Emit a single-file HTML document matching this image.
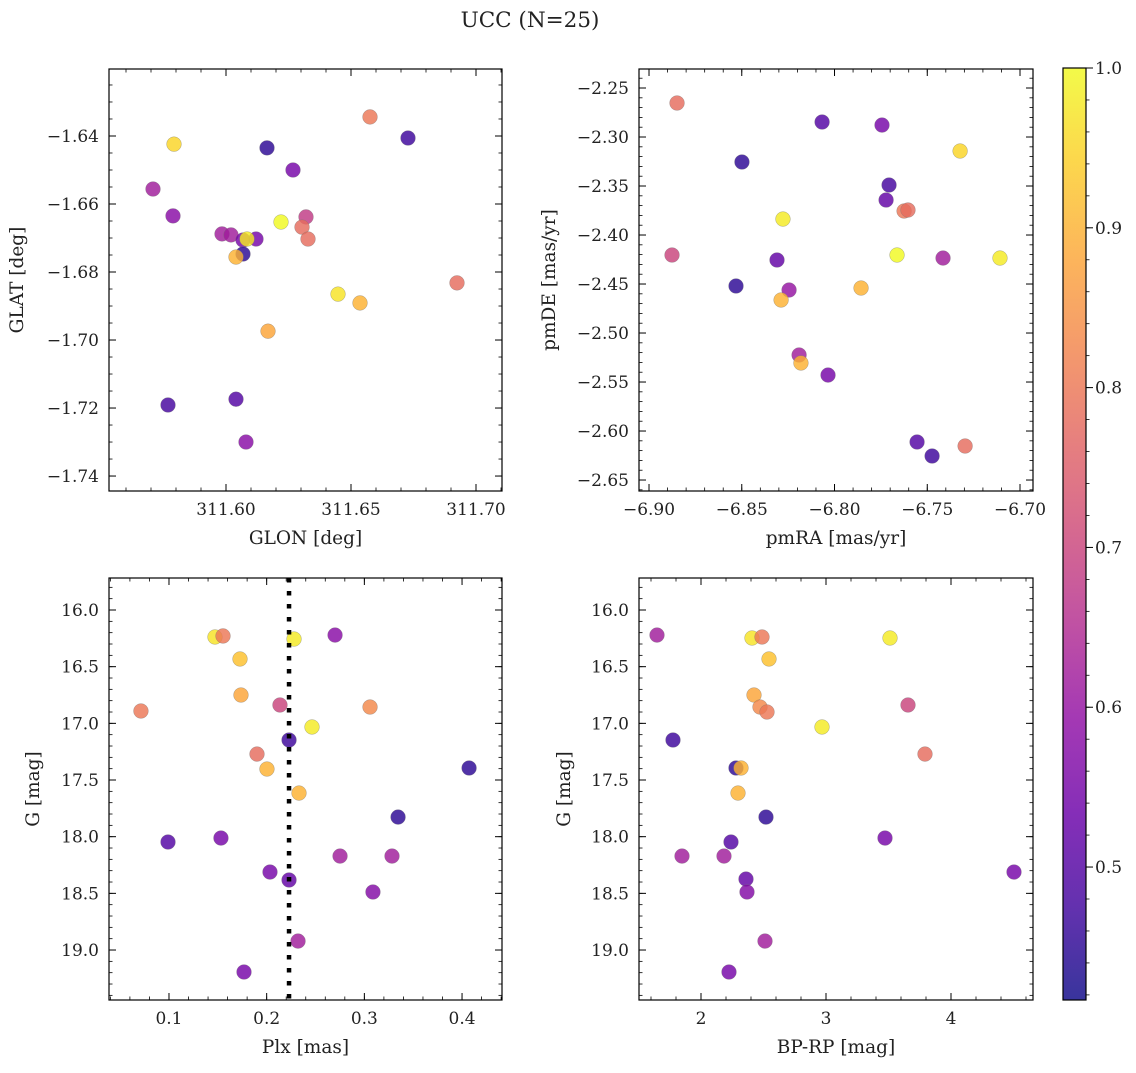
<!DOCTYPE html>
<html><head><meta charset="utf-8">
<style>
body{margin:0;background:#fff;}
svg text{font-family:"DejaVu Serif","Liberation Serif",serif;fill:#222;}
</style></head>
<body>
<svg id="fig" width="1136" height="1068" viewBox="0 0 1136 1068" xmlns="http://www.w3.org/2000/svg">
<defs>
<linearGradient id="plasma" x1="0" y1="1" x2="0" y2="0">
</linearGradient>
</defs>
<text x="530" y="27" font-size="21.5" text-anchor="middle">UCC (N=25)</text>
</svg>
<script>
// ---- data ----
const tlGlon = [311.6576,311.6728,311.5792,311.6164,311.6268,311.5708,311.5788,311.6320,311.5984,311.6020,311.6120,311.6068,311.6084,311.6304,311.6328,311.6220,311.6068,311.6040,311.6924,311.6448,311.6536,311.6168,311.6040,311.5768,311.6080];
const tlGlat = [-1.6344,-1.6406,-1.6424,-1.6435,-1.6500,-1.6556,-1.6635,-1.6638,-1.6688,-1.6691,-1.6703,-1.6706,-1.6703,-1.6668,-1.6703,-1.6653,-1.6747,-1.6756,-1.6832,-1.6865,-1.6891,-1.6974,-1.7174,-1.7191,-1.7300];
const tlProb = [0.80,0.47,0.95,0.45,0.55,0.62,0.58,0.68,0.62,0.62,0.55,0.55,0.98,0.78,0.78,1.0,0.45,0.9,0.78,0.97,0.9,0.88,0.5,0.48,0.58];

const trPmra = [-6.8849,-6.8067,-6.7744,-6.8499,-6.7323,-6.7706,-6.7722,-6.7625,-6.7604,-6.8278,-6.8876,-6.7663,-6.7415,-6.7108,-6.8310,-6.8531,-6.8245,-6.7857,-6.8288,-6.8191,-6.8181,-6.8035,-6.7555,-6.7474,-6.7296];
const trPmde = [-2.2653,-2.2847,-2.2878,-2.3255,-2.3143,-2.3490,-2.3643,-2.3755,-2.3745,-2.3837,-2.4204,-2.4204,-2.4235,-2.4235,-2.4255,-2.4520,-2.4561,-2.4541,-2.4663,-2.5224,-2.5306,-2.5429,-2.6112,-2.6255,-2.6153];
const trProb = [0.78,0.5,0.55,0.45,0.95,0.48,0.52,0.8,0.78,0.98,0.7,1.0,0.62,0.98,0.52,0.45,0.6,0.9,0.9,0.62,0.9,0.55,0.5,0.47,0.78];

const blPlx = [0.0713,0.1471,0.1553,0.1727,0.1737,0.2136,0.2229,0.1901,0.2003,0.2331,0.2280,0.2700,0.2464,0.3058,0.4072,0.3345,0.0990,0.1532,0.2034,0.2229,0.2751,0.3283,0.3088,0.2321,0.1768];
const blG = [16.891,16.238,16.229,16.432,16.750,16.838,17.147,17.271,17.403,17.615,16.256,16.221,17.032,16.856,17.394,17.827,18.047,18.012,18.312,18.382,18.171,18.171,18.488,18.921,19.194];
const blProb = [0.8,0.97,0.8,0.92,0.88,0.7,0.47,0.78,0.9,0.9,0.98,0.58,0.98,0.83,0.45,0.45,0.5,0.55,0.55,0.52,0.62,0.62,0.57,0.62,0.55];
const plxLine = 0.2229;

const brBprp = [1.648,2.408,2.488,3.512,2.544,2.424,2.472,2.528,3.656,2.968,1.776,2.280,2.320,3.792,2.296,2.520,2.240,3.472,1.848,2.184,2.360,2.368,2.512,2.224,4.504];
const brG = [16.221,16.247,16.238,16.247,16.432,16.750,16.856,16.900,16.838,17.032,17.147,17.394,17.394,17.271,17.615,17.827,18.047,18.012,18.171,18.171,18.374,18.488,18.921,19.194,18.312];
const brProb = [0.62,0.97,0.8,0.98,0.92,0.88,0.83,0.8,0.7,0.98,0.47,0.45,0.9,0.78,0.9,0.45,0.5,0.55,0.62,0.62,0.52,0.57,0.62,0.55,0.55];

const tlXTicks = [311.60,311.65,311.70];
const tlXLabels = ["311.60","311.65","311.70"];
const tlYTicks = [-1.64,-1.66,-1.68,-1.70,-1.72,-1.74];
const trXTicks = [-6.90,-6.85,-6.80,-6.75,-6.70];
const trYTicks = [-2.25,-2.30,-2.35,-2.40,-2.45,-2.50,-2.55,-2.60,-2.65];
const blXTicks = [0.1,0.2,0.3,0.4];
const gTicks = [16.0,16.5,17.0,17.5,18.0,18.5,19.0];
const brXTicks = [2,3,4];
const cbTicks = [0.5,0.6,0.7,0.8,0.9,1.0];
const cbMin = 0.4168, cbMax = 1.0;

// ---- helpers ----
const NS = "http://www.w3.org/2000/svg";
const svg = document.getElementById('fig');
const TICKFS = 17, TITLEFS = 18.5;
function mk(tag, attrs, parent){
  const e = document.createElementNS(NS, tag);
  for (const k in attrs) e.setAttribute(k, attrs[k]);
  (parent||svg).appendChild(e);
  return e;
}
const stops = [[0,[13,8,135]],[0.1,[65,4,157]],[0.2,[106,0,168]],[0.3,[143,13,164]],[0.4,[177,42,144]],[0.5,[204,71,120]],[0.6,[225,100,98]],[0.7,[242,132,75]],[0.8,[252,166,54]],[0.9,[252,206,37]],[1,[240,249,33]]];
function plasma(t){
  t=Math.max(0,Math.min(1,t));
  for(let i=1;i<stops.length;i++){
    if(t<=stops[i][0]){
      const a=stops[i-1],b=stops[i],f=(t-a[0])/(b[0]-a[0]);
      const c=a[1].map((v,j)=>Math.round(v+(b[1][j]-v)*f));
      return `rgb(${c[0]},${c[1]},${c[2]})`;
    }
  }
  return 'rgb(240,249,33)';
}
function cmap(p){ return plasma((p-cbMin)/(cbMax-cbMin)); }
function fmt(v,d){ const s=v.toFixed(d); return s.startsWith('-')?'\u2212'+s.slice(1):s; }

function panel(cfg){
  const {name,x0,y0,x1,y1,xd,yd,invY,xt,xlab,xdec,yt,ydec,xminor,yminor,xs,ys,ps,xtitle,ytitle} = cfg;
  const g = mk('g',{});
  
  
  const sx = v => x0 + (v-xd[0])/(xd[1]-xd[0])*(x1-x0);
  const sy = v => invY ? y0 + (v-yd[0])/(yd[1]-yd[0])*(y1-y0) : y1 - (v-yd[0])/(yd[1]-yd[0])*(y1-y0);
  const pg = mk('g',{},g);
  
  
  for(let i=0;i<xs.length;i++){
    const c = mk('circle',{cx:sx(xs[i]),cy:sy(ys[i]),r:7.4,fill:cmap(ps[i]),'fill-opacity':0.82,stroke:'#777','stroke-width':0.5,'stroke-opacity':0.6},pg);
    
    
  }
  if(cfg.vline!==undefined){
    const l = mk('line',{x1:sx(cfg.vline),x2:sx(cfg.vline),y1:y0,y2:y1,stroke:'#000','stroke-width':4.5,'stroke-dasharray':'4.5 8.5'},g);
    
    
  }
  const fr = mk('rect',{x:x0,y:y0,width:x1-x0,height:y1-y0,fill:'none',stroke:'#000','stroke-width':1.2},g);
  
  
  const lo=Math.min(...xd),hi=Math.max(...xd);
  for(let v=Math.ceil(lo/xminor-1e-6)*xminor; v<=hi+1e-9; v+=xminor){
    const X=sx(v);
    mk('line',{x1:X,x2:X,y1:y1,y2:y1-3.5,stroke:'#000','stroke-width':0.8},g);
    mk('line',{x1:X,x2:X,y1:y0,y2:y0+3.5,stroke:'#000','stroke-width':0.8},g);
  }
  const ylo=Math.min(...yd),yhi=Math.max(...yd);
  for(let v=Math.ceil(ylo/yminor-1e-6)*yminor; v<=yhi+1e-9; v+=yminor){
    const Y=sy(v);
    mk('line',{x1:x0,x2:x0+3.5,y1:Y,y2:Y,stroke:'#000','stroke-width':0.8},g);
    mk('line',{x1:x1,x2:x1-3.5,y1:Y,y2:Y,stroke:'#000','stroke-width':0.8},g);
  }
  xt.forEach((v,i)=>{
    const X=sx(v);
    mk('line',{x1:X,x2:X,y1:y1,y2:y1-7,stroke:'#000','stroke-width':1},g);
    mk('line',{x1:X,x2:X,y1:y0,y2:y0+7,stroke:'#000','stroke-width':1},g);
    const t=mk('text',{x:X,y:y1+24,'font-size':TICKFS,'text-anchor':'middle'},g);
    t.textContent = xlab?xlab[i]:fmt(v,xdec);
    
    
  });
  yt.forEach(v=>{
    const Y=sy(v);
    mk('line',{x1:x0,x2:x0+7,y1:Y,y2:Y,stroke:'#000','stroke-width':1},g);
    mk('line',{x1:x1,x2:x1-7,y1:Y,y2:Y,stroke:'#000','stroke-width':1},g);
    const t=mk('text',{x:x0-10,y:Y+6,'font-size':TICKFS,'text-anchor':'end'},g);
    t.textContent = fmt(v,ydec);
    
    
  });
  const xtl=mk('text',{x:(x0+x1)/2,y:y1+53,'font-size':TITLEFS,'text-anchor':'middle'},g);
  xtl.textContent=xtitle;
  
  
  const ytx=cfg.ytx;
  const ytl=mk('text',{x:ytx,y:(y0+y1)/2,'font-size':TITLEFS,'text-anchor':'middle',transform:`rotate(-90 ${ytx} ${(y0+y1)/2})`},g);
  ytl.textContent=ytitle;
  
  
}

panel({name:'glon-glat-panel',x0:109,y0:69,x1:502,y1:491,xd:[311.5532,311.7104],yd:[-1.7444,-1.6203],invY:false,
  xt:tlXTicks,xlab:tlXLabels,yt:tlYTicks,ydec:2,xminor:0.01,yminor:0.005,xs:tlGlon,ys:tlGlat,ps:tlProb,xtitle:'GLON [deg]',ytitle:'GLAT [deg]',ytx:23});
panel({name:'pm-panel',x0:639,y0:69,x1:1033,y1:491,xd:[-6.9054,-6.693],yd:[-2.6612,-2.2306],invY:false,
  xt:trXTicks,xdec:2,yt:trYTicks,ydec:2,xminor:0.01,yminor:0.01,xs:trPmra,ys:trPmde,ps:trProb,xtitle:'pmRA [mas/yr]',ytitle:'pmDE [mas/yr]',ytx:555});
panel({name:'plx-g-panel',x0:109,y0:578,x1:502,y1:1000,xd:[0.0386,0.4409],yd:[15.7176,19.441],invY:true,
  xt:blXTicks,xdec:1,yt:gTicks,ydec:1,xminor:0.02,yminor:0.1,xs:blPlx,ys:blG,ps:blProb,xtitle:'Plx [mas]',ytitle:'G [mag]',ytx:39,vline:plxLine});
panel({name:'cmd-panel',x0:639,y0:578,x1:1033,y1:1000,xd:[1.504,4.656],yd:[15.7176,19.441],invY:true,
  xt:brXTicks,xdec:0,yt:gTicks,ydec:1,xminor:0.2,yminor:0.1,xs:brBprp,ys:brG,ps:brProb,xtitle:'BP-RP [mag]',ytitle:'G [mag]',ytx:570});

// colorbar
const grad=document.getElementById('plasma');
for(let i=0;i<=20;i++){
  const t=i/20;
  mk('stop',{offset:t,'stop-color':plasma(t)},grad);
}
const cbx0=1063,cbx1=1086,cby0=68,cby1=1000;
const cb=mk('rect',{x:cbx0,y:cby0,width:cbx1-cbx0,height:cby1-cby0,fill:'url(#plasma)','fill-opacity':0.82});


mk('rect',{x:cbx0,y:cby0,width:cbx1-cbx0,height:cby1-cby0,fill:'none',stroke:'#000','stroke-width':1.2});
const cy = v => cby1 - (v-cbMin)/(cbMax-cbMin)*(cby1-cby0);
for(let v=0.42; v<=1.0001; v+=0.02){
  mk('line',{x1:cbx1,x2:cbx1+3.5,y1:cy(v),y2:cy(v),stroke:'#000','stroke-width':0.8});
}
cbTicks.forEach(v=>{
  const Y=cy(v);
  mk('line',{x1:cbx1,x2:cbx1+7,y1:Y,y2:Y,stroke:'#000','stroke-width':1});
  const t=mk('text',{x:cbx1+9,y:Y+6,'font-size':TICKFS});
  t.textContent=v.toFixed(1);
  
  
});
</script>
</body></html>
